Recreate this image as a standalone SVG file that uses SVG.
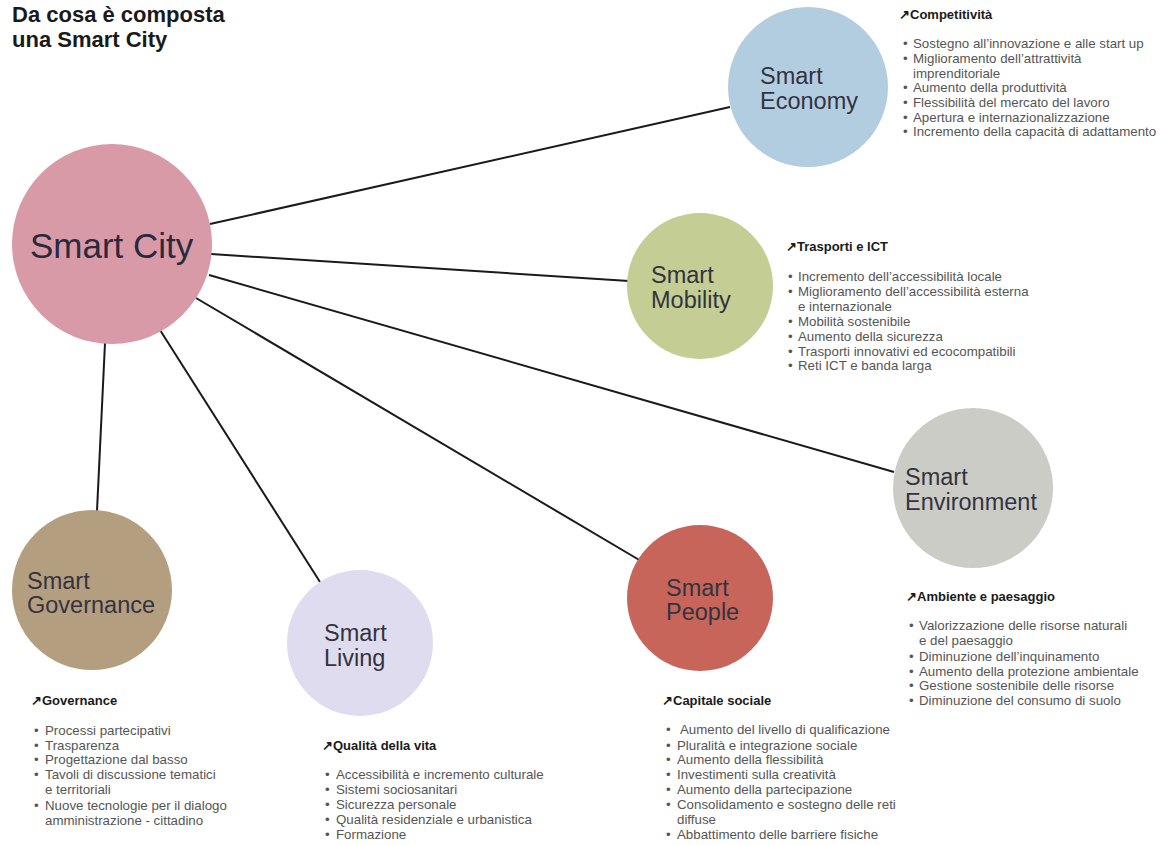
<svg xmlns="http://www.w3.org/2000/svg" width="1161" height="845" viewBox="0 0 1161 845">
<style>
.title{font-family:"Liberation Sans",Arial,sans-serif;font-weight:bold;font-size:22px;fill:#1a1a1a}
.lbl{font-family:"Liberation Sans",Arial,sans-serif;font-size:23.5px;fill:#333340}
.big{font-family:"Liberation Sans",Arial,sans-serif;font-size:35px;fill:#2a2a3c}
.hd{font-family:"Liberation Sans",Arial,sans-serif;font-weight:bold;font-size:13px;fill:#1a1a1a}
.it{font-family:"Liberation Sans",Arial,sans-serif;font-size:13.3px;fill:#555}
.conn line{stroke:#1a1a1a;stroke-width:2}
</style>
<rect width="1161" height="845" fill="#fff"/>
<text class="title" x="12" y="22">Da cosa è composta</text>
<text class="title" x="12" y="47">una Smart City</text>
<g class="conn" id="connectors">
<line x1="210" y1="224" x2="730" y2="107"/>
<line x1="211" y1="254" x2="629" y2="281"/>
<line x1="209" y1="275" x2="894" y2="472"/>
<line x1="196" y1="298" x2="641" y2="561"/>
<line x1="160" y1="330" x2="320" y2="582"/>
<line x1="105" y1="343" x2="97" y2="511"/>
</g>
<g id="smart-city"><circle cx="112" cy="244" r="100" fill="#d99aa8"/><text class="big" x="30" y="258">Smart City</text></g>
<g id="smart-economy"><circle cx="808" cy="87" r="80" fill="#b3cde0"/><text class="lbl" x="760" y="84">Smart</text><text class="lbl" x="760" y="109">Economy</text></g>
<g id="smart-mobility"><circle cx="700" cy="286" r="73" fill="#c4cd93"/><text class="lbl" x="651" y="283">Smart</text><text class="lbl" x="651" y="308">Mobility</text></g>
<g id="smart-environment"><circle cx="973" cy="488" r="80" fill="#cbccc6"/><text class="lbl" x="905" y="485">Smart</text><text class="lbl" x="905" y="510">Environment</text></g>
<g id="smart-people"><circle cx="700" cy="598" r="73" fill="#c8655a"/><text class="lbl" x="666" y="596">Smart</text><text class="lbl" x="666" y="620">People</text></g>
<g id="smart-living"><circle cx="360" cy="643" r="73" fill="#e0dcef"/><text class="lbl" x="324" y="641">Smart</text><text class="lbl" x="324" y="666">Living</text></g>
<g id="smart-governance"><circle cx="92" cy="590" r="80" fill="#b39f7f"/><text class="lbl" x="27" y="589">Smart</text><text class="lbl" x="27" y="613">Governance</text></g>
<g id="list-economy">
<text class="hd" x="899" y="19">↗Competitività</text>
<text class="it" x="903" y="48">•<tspan x="913">Sostegno all’innovazione e alle start up</tspan></text>
<text class="it" x="903" y="63">•<tspan x="913">Miglioramento dell’attrattività</tspan></text>
<text class="it" x="913" y="78">imprenditoriale</text>
<text class="it" x="903" y="92">•<tspan x="913">Aumento della produttività</tspan></text>
<text class="it" x="903" y="107">•<tspan x="913">Flessibilità del mercato del lavoro</tspan></text>
<text class="it" x="903" y="122">•<tspan x="913">Apertura e internazionalizzazione</tspan></text>
<text class="it" x="903" y="136">•<tspan x="913">Incremento della capacità di adattamento</tspan></text>
</g>
<g id="list-mobility">
<text class="hd" x="786" y="251">↗Trasporti e ICT</text>
<text class="it" x="788" y="281">•<tspan x="798">Incremento dell’accessibilità locale</tspan></text>
<text class="it" x="788" y="296">•<tspan x="798">Miglioramento dell’accessibilità esterna</tspan></text>
<text class="it" x="798" y="311">e internazionale</text>
<text class="it" x="788" y="326">•<tspan x="798">Mobilità sostenibile</tspan></text>
<text class="it" x="788" y="341">•<tspan x="798">Aumento della sicurezza</tspan></text>
<text class="it" x="788" y="356">•<tspan x="798">Trasporti innovativi ed ecocompatibili</tspan></text>
<text class="it" x="788" y="370">•<tspan x="798">Reti ICT e banda larga</tspan></text>
</g>
<g id="list-environment">
<text class="hd" x="906" y="601">↗Ambiente e paesaggio</text>
<text class="it" x="909" y="630">•<tspan x="919">Valorizzazione delle risorse naturali</tspan></text>
<text class="it" x="919" y="645">e del paesaggio</text>
<text class="it" x="909" y="661">•<tspan x="919">Diminuzione dell’inquinamento</tspan></text>
<text class="it" x="909" y="676">•<tspan x="919">Aumento della protezione ambientale</tspan></text>
<text class="it" x="909" y="690">•<tspan x="919">Gestione sostenibile delle risorse</tspan></text>
<text class="it" x="909" y="705">•<tspan x="919">Diminuzione del consumo di suolo</tspan></text>
</g>
<g id="list-governance">
<text class="hd" x="31" y="705">↗Governance</text>
<text class="it" x="34" y="735">•<tspan x="45">Processi partecipativi</tspan></text>
<text class="it" x="34" y="750">•<tspan x="45">Trasparenza</tspan></text>
<text class="it" x="34" y="764">•<tspan x="45">Progettazione dal basso</tspan></text>
<text class="it" x="34" y="779">•<tspan x="45">Tavoli di discussione tematici</tspan></text>
<text class="it" x="45" y="794">e territoriali</text>
<text class="it" x="34" y="810">•<tspan x="45">Nuove tecnologie per il dialogo</tspan></text>
<text class="it" x="45" y="825">amministrazione - cittadino</text>
</g>
<g id="list-living">
<text class="hd" x="322" y="750">↗Qualità della vita</text>
<text class="it" x="325" y="779">•<tspan x="336">Accessibilità e incremento culturale</tspan></text>
<text class="it" x="325" y="794">•<tspan x="336">Sistemi sociosanitari</tspan></text>
<text class="it" x="325" y="809">•<tspan x="336">Sicurezza personale</tspan></text>
<text class="it" x="325" y="824">•<tspan x="336">Qualità residenziale e urbanistica</tspan></text>
<text class="it" x="325" y="839">•<tspan x="336">Formazione</tspan></text>
</g>
<g id="list-people">
<text class="hd" x="662" y="705">↗Capitale sociale</text>
<text class="it" x="666" y="734">•<tspan x="680">Aumento del livello di qualificazione</tspan></text>
<text class="it" x="666" y="750">•<tspan x="677">Pluralità e integrazione sociale</tspan></text>
<text class="it" x="666" y="764">•<tspan x="677">Aumento della flessibilità</tspan></text>
<text class="it" x="666" y="779">•<tspan x="677">Investimenti sulla creatività</tspan></text>
<text class="it" x="666" y="794">•<tspan x="677">Aumento della partecipazione</tspan></text>
<text class="it" x="666" y="809">•<tspan x="677">Consolidamento e sostegno delle reti</tspan></text>
<text class="it" x="677" y="824">diffuse</text>
<text class="it" x="666" y="839">•<tspan x="677">Abbattimento delle barriere fisiche</tspan></text>
</g>
</svg>
